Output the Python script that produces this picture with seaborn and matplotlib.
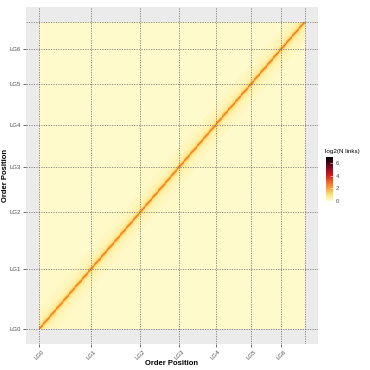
import numpy as np
import pandas as pd
import seaborn as sns
import matplotlib
matplotlib.use("Agg")
import matplotlib.pyplot as plt
from matplotlib.colors import LinearSegmentedColormap

# ---- data ----
chroms = ["LG0", "LG1", "LG2", "LG3", "LG4", "LG5", "LG6"]
chrom_sizes = [60, 57, 45, 42, 41, 35, 27]          # bins per linkage group
# log2(N links) as a function of distance (in bins) from the diagonal
diag_profile = [2.7, 2.0, 1.3, 0.9, 0.68, 0.54, 0.45, 0.38, 0.33, 0.29,
                0.26, 0.23, 0.21, 0.19, 0.17, 0.15, 0.14, 0.13, 0.12, 0.11, 0.1]
intra_bg = 0.08
inter_bg = 0.02
cbar_ticks = [0, 2, 4, 6]
vmax = 7

# ---- build matrix ----
n = sum(chrom_sizes)
starts = np.concatenate([[0], np.cumsum(chrom_sizes)])
lab = np.repeat(np.arange(len(chrom_sizes)), chrom_sizes)
idx = np.arange(n)
dist = np.abs(idx[:, None] - idx[None, :])
same = lab[:, None] == lab[None, :]
mat = np.where(same, intra_bg, inter_bg).astype(float)
prof = np.array(diag_profile)
near = dist < len(prof)
mat[near] = np.maximum(mat[near], prof[dist[near]])
df = pd.DataFrame(mat)

cmap = LinearSegmentedColormap.from_list(
    "links", ["#FFFACB", "#FFE27A", "#F7A23A", "#EE6A24", "#D51E1A",
              "#9C0A22", "#4A0512", "#000000"])

# ---- figure ----
plt.rcParams["font.family"] = ["Liberation Sans", "DejaVu Sans"]
fig = plt.figure(figsize=(3.7, 3.7), dpi=100)
ax = fig.add_axes([0.070, 0.070, 0.789, 0.911])
cax = fig.add_axes([0.881, 0.457, 0.019, 0.119])

sns.heatmap(df, ax=ax, cmap=cmap, vmin=0, vmax=vmax, cbar_ax=cax,
            xticklabels=False, yticklabels=False, rasterized=True)

pad = 0.05 * n
ax.set_xlim(-pad, n + pad)
ax.set_ylim(-pad, n + pad)
ax.set_facecolor("#EBEBEB")
for s in ax.spines.values():
    s.set_visible(False)

for b in starts:
    ax.axvline(b, color="#707070", lw=0.55, ls=(0, (1.6, 1.6)), zorder=3)
    ax.axhline(b, color="#707070", lw=0.55, ls=(0, (1.6, 1.6)), zorder=3)

ax.set_xticks(starts[:-1])
ax.set_yticks(starts[:-1])
ax.set_xticklabels(chroms, rotation=45, ha="center", fontsize=4.3, color="#4D4D4D")
ax.set_yticklabels(chroms, fontsize=4.3, color="#4D4D4D")
ax.tick_params(axis="both", length=2, width=0.5, color="#333333", pad=1.5)
ax.set_xlabel("Order Position", fontsize=5.5, fontweight="bold")
ax.set_ylabel("Order Position", fontsize=5.5, fontweight="bold")
ax.yaxis.set_label_coords(-0.058, 0.5)
ax.xaxis.set_label_coords(0.5, -0.048)

cax.set_yticks(cbar_ticks)
cax.tick_params(length=2, width=0.4, color="white", labelsize=4.3,
                labelcolor="#4D4D4D", pad=2, direction="in")
for s in cax.spines.values():
    s.set_visible(False)
fig.text(0.879, 0.585, "log2(N links)", fontsize=4.5, ha="left", va="bottom")

fig.savefig("out.png", dpi=100)
